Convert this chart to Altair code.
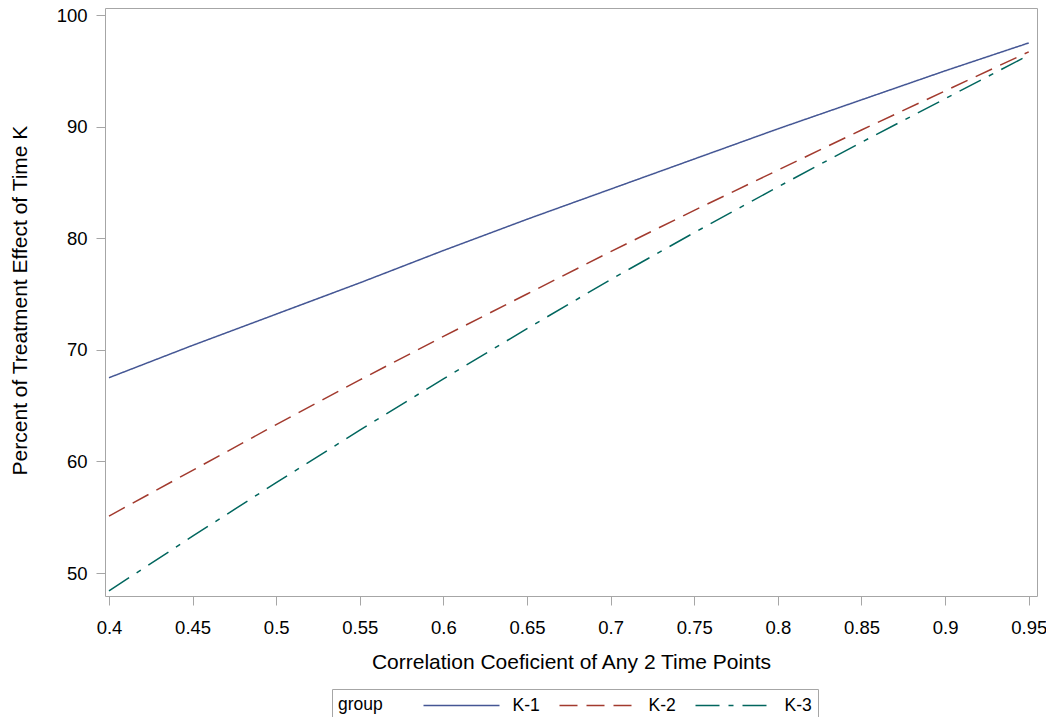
import altair as alt
import pandas as pd

# Data
x_vals = [0.40, 0.45, 0.50, 0.55, 0.60, 0.65, 0.70, 0.75, 0.80, 0.85, 0.90, 0.95]
k1 = [67.5, 70.4, 73.2, 76.0, 78.9, 81.7, 84.4, 87.1, 89.8, 92.4, 95.0, 97.5]
k2 = [55.1, 59.2, 63.3, 67.3, 71.2, 75.0, 78.8, 82.5, 86.1, 89.7, 93.2, 96.7]
k3 = [48.4, 53.3, 58.1, 62.8, 67.4, 71.9, 76.3, 80.5, 84.6, 88.6, 92.5, 96.4]
groups = ["K-1", "K-2", "K-3"]
colors = ["#445694", "#A23A2E", "#01665E"]
dashes = [[1, 0], [18, 9], [24, 9, 5, 9]]
x_ticks = [0.40, 0.45, 0.50, 0.55, 0.60, 0.65, 0.70, 0.75, 0.80, 0.85, 0.90, 0.95]
y_ticks = [50, 60, 70, 80, 90, 100]

rows = []
for g, ys in zip(groups, [k1, k2, k3]):
    for x, y in zip(x_vals, ys):
        rows.append({"rho": x, "pct": y, "group": g})
df = pd.DataFrame(rows)

FONT = "Arial, Liberation Sans, sans-serif"
GRAY = "#a6a6a6"

legend_props = dict(
    orient="none",
    legendX=227,
    legendY=681,
    direction="horizontal",
    titleOrient="left",
    symbolType="M-4,0H4",
    symbolSize=361,
    symbolStrokeWidth=1.5,
    labelOffset=40.5,
    titlePadding=68,
    columnPadding=16,
    title="group",
)

chart = alt.Chart(df).mark_line(strokeWidth=1.5, clip=True).encode(
    x=alt.X(
        "rho:Q",
        scale=alt.Scale(domain=[0.39761, 0.95496], nice=False, zero=False),
        axis=alt.Axis(
            values=x_ticks,
            format=".2~f",
            title="Correlation Coeficient of Any 2 Time Points",
            labelPadding=22,
            labelBaseline="middle",
            titleY=66,
            titleBaseline="middle",
        ),
    ),
    y=alt.Y(
        "pct:Q",
        scale=alt.Scale(domain=[47.94, 100.63], nice=False, zero=False),
        axis=alt.Axis(
            values=y_ticks,
            format="d",
            title="Percent of Treatment Effect of Time K",
            labelPadding=9,
            titleAngle=270,
            titleX=-85,
            titleY=292,
            titleAlign="center",
            titleBaseline="middle",
        ),
    ),
    color=alt.Color("group:N", scale=alt.Scale(domain=groups, range=colors),
                    legend=alt.Legend(**legend_props)),
    strokeDash=alt.StrokeDash("group:N", scale=alt.Scale(domain=groups, range=dashes),
                              legend=alt.Legend(**legend_props)),
).properties(
    width=932,
    height=588,
    autosize=alt.AutoSizeParams(type="none"),
    padding={"left": 97, "top": 0, "right": 9, "bottom": 121},
).configure_view(
    stroke=GRAY, strokeWidth=1
).configure_axis(
    domain=False,
    grid=False,
    tickColor=GRAY,
    tickSize=9,
    tickWidth=1,
    labelFont=FONT,
    labelFontSize=18.5,
    labelColor="#000",
    titleFont=FONT,
    titleFontSize=21,
    titleFontWeight="normal",
    titleColor="#000",
).configure_legend(
    labelFont=FONT,
    labelFontSize=17.5,
    labelColor="#000",
    titleFont=FONT,
    titleFontSize=17.5,
    titleFontWeight="normal",
    titleColor="#000",
    strokeColor=GRAY,
    padding=6,
)

chart.save("out.html", embed_options={"renderer": "svg", "actions": False})
